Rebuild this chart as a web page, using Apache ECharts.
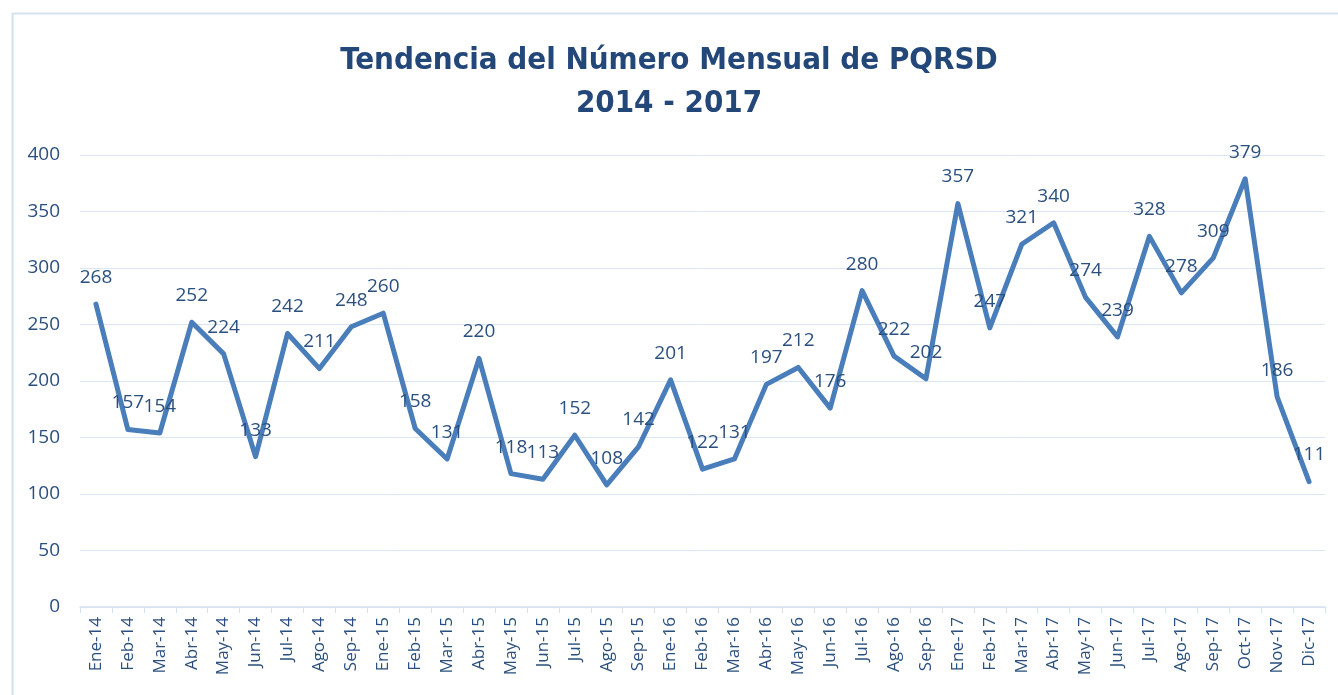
<!DOCTYPE html>
<html>
<head>
<meta charset="utf-8">
<script src="https://cdn.jsdelivr.net/npm/echarts@6/dist/echarts.min.js"></script>
<style>
  html, body { margin: 0; padding: 0; background: #fff; }
  #chart { width: 1338px; height: 695px; }
</style>
</head>
<body>
<div id="chart"></div>
<script>
var meses = ['Ene-14','Feb-14','Mar-14','Abr-14','May-14','Jun-14','Jul-14','Ago-14','Sep-14',
  'Ene-15','Feb-15','Mar-15','Abr-15','May-15','Jun-15','Jul-15','Ago-15','Sep-15',
  'Ene-16','Feb-16','Mar-16','Abr-16','May-16','Jun-16','Jul-16','Ago-16','Sep-16',
  'Ene-17','Feb-17','Mar-17','Abr-17','May-17','Jun-17','Jul-17','Ago-17','Sep-17','Oct-17','Nov-17','Dic-17'];
var pqrsd = [268,157,154,252,224,133,242,211,248,
  260,158,131,220,118,113,152,108,142,
  201,122,131,197,212,176,280,222,202,
  357,247,321,340,274,239,328,278,309,379,186,111];

var chart = echarts.init(document.getElementById('chart'));
var azul = '#2b4f7e';
var option = {
  backgroundColor: '#fff',
  title: {
    text: 'Tendencia del Número Mensual de PQRSD\n2014 - 2017',
    left: 'center',
    top: 34,
    textStyle: {
      fontFamily: 'DejaVu Sans Condensed, sans-serif',
      fontSize: 31,
      fontWeight: 'bold',
      color: '#24477a',
      lineHeight: 43
    }
  },
  graphic: [{
    type: 'rect',
    shape: { x: 12.5, y: 13.5, width: 1400, height: 800 },
    style: { fill: null, stroke: '#d6e1ef', lineWidth: 2 },
    silent: true
  }],
  grid: { left: 80, right: 13, top: 155, bottom: 88 },
  xAxis: {
    type: 'category',
    data: meses,
    boundaryGap: true,
    axisLine: { lineStyle: { color: '#d6e1ef', width: 1.5 } },
    axisTick: { show: true, length: 6, lineStyle: { color: '#d6e1ef' } },
    axisLabel: {
      rotate: 90,
      interval: 0,
      color: azul,
      fontSize: 17,
      fontFamily: 'Open Sans, sans-serif',
      margin: 10
    }
  },
  yAxis: {
    type: 'value',
    min: 0,
    max: 400,
    interval: 50,
    axisLine: { show: false },
    axisTick: { show: false },
    splitLine: { lineStyle: { color: '#dce6f2', width: 1 } },
    axisLabel: {
      color: azul,
      fontSize: 19,
      fontFamily: 'Open Sans, sans-serif',
      margin: 20
    }
  },
  series: [{
    name: 'PQRSD',
    type: 'line',
    data: pqrsd,
    symbol: 'circle',
    symbolSize: 0,
    showSymbol: true,
    lineStyle: { color: '#4a7ebb', width: 5, cap: 'round', join: 'round' },
    itemStyle: { color: '#4a7ebb' },
    label: {
      show: true,
      position: 'top',
      distance: 17,
      color: azul,
      fontSize: 19,
      fontFamily: 'Open Sans, sans-serif'
    },
    labelLayout: { hideOverlap: false }
  }]
};
chart.setOption(option);
</script>
</body>
</html>
